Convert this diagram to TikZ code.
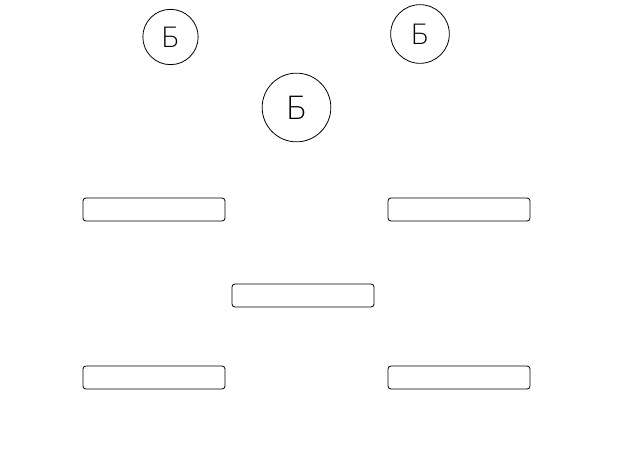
\documentclass[tikz,border=0pt]{standalone}
\usepackage{fontspec}
\setmainfont{DejaVu Sans}
\newfontfamily\thinfont{DejaVu Sans ExtraLight}
\usetikzlibrary{positioning}

\begin{document}
\begin{tikzpicture}[x=0.75pt, y=-0.75pt, line width=0.6pt]
  \tikzstyle{ring}=[draw,circle,inner sep=0pt,font=\thinfont\fontsize{21}{21}\selectfont]
  \tikzstyle{slot}=[draw,rounded corners=2.2pt,minimum width=106.5pt,minimum height=17.25pt,inner sep=0pt]
  \useasboundingbox (0,0) rectangle (634,452);
  \node[ring,minimum size=41.5pt] (leftB) at (170.5,37) {Б};
  \node[ring,minimum size=44pt] (rightB) at (420,34) {Б};
  \node[ring,minimum size=51.5pt,font=\thinfont\fontsize{24}{24}\selectfont] (midB) at (296.5,107.5) {Б};
  \node[slot] (upL) at (154,209.5) {};
  \node[slot] (upR) at (459,209.5) {};
  \node[slot] (mid) at (303,295.5) {};
  \node[slot] (lowL) at (154,377.5) {};
  \node[slot] (lowR) at (459,377.5) {};
\end{tikzpicture}
\end{document}
